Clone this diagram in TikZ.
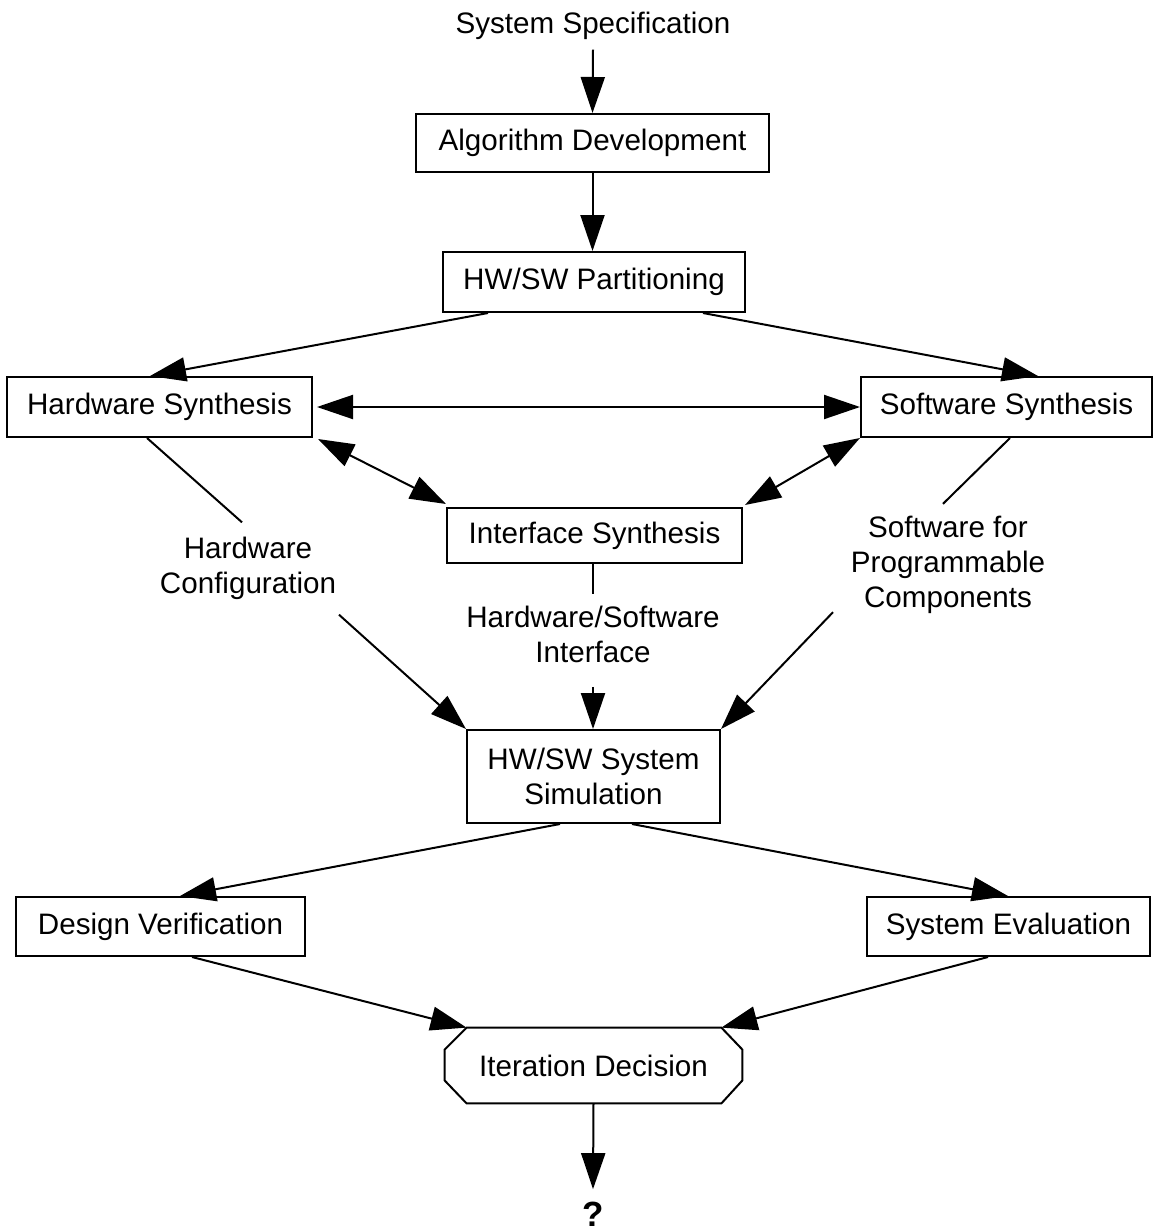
\documentclass[tikz,border=0pt]{standalone}
\usepackage{fontspec}
\setmainfont{Liberation Sans}
\usetikzlibrary{arrows.meta,calc}
\begin{document}
\begin{tikzpicture}[x=0.5pt,y=-0.5pt,
  >={Triangle[length=18pt,width=12pt]},
  every node/.style={font=\fontsize{14.8pt}{17.5pt}\selectfont, inner sep=0pt},
  box/.style={draw, line width=1pt, fill=white},
  conn/.style={line width=1pt},
  arr/.style={conn, ->},
  darr/.style={conn, <->},
  lbl/.style={align=center}]
\useasboundingbox (0,0) rectangle (1154,1232);

% process boxes
\node[anchor=base] (spec) at (593,33) {System Specification};
\node[box, minimum width=176.5pt, minimum height=29pt] (alg) at (592.5,143) {Algorithm Development};
\node[box, minimum width=151pt, minimum height=30pt] (part) at (594,282) {HW/SW Partitioning};
\node[box, minimum width=152.5pt, minimum height=30pt] (hw) at (159.5,407) {Hardware Synthesis};
\node[box, minimum width=145.5pt, minimum height=30pt] (sw) at (1006.5,407) {Software Synthesis};
\node[box, minimum width=147.5pt, minimum height=27.5pt] (intf) at (594.5,535.5) {Interface Synthesis};
\node[box, minimum width=126.5pt, minimum height=46.5pt, align=center] (sim) at (593.5,776.5) {HW/SW System\\Simulation};
\node[box, minimum width=144.5pt, minimum height=29.5pt] (dv) at (160.5,926.5) {Design Verification};
\node[box, minimum width=141.5pt, minimum height=29.5pt] (se) at (1008.5,926.5) {System Evaluation};
\node[minimum width=148.5pt, minimum height=37.5pt] (oct) at (593.5,1065.5) {Iteration Decision};
\node[anchor=base, font=\fontsize{17.5pt}{21pt}\selectfont\bfseries] (q) at (593,1226) {?};

% data labels on the connectors
\node[lbl] (hwcfg) at (248,568) {Hardware\\Configuration};
\node[lbl] (ifc) at (593,634) {Hardware/Software\\Interface};
\node[lbl] (swprog) at (948,565) {Software for\\Programmable\\Components};

% octagonal decision outline
\draw[conn] ($(oct.north west)+(22,0)$) -- ($(oct.north east)+(-21,0)$)
  -- ($(oct.north east)+(0,22)$) -- ($(oct.south east)+(0,-23)$)
  -- ($(oct.south east)+(-21,0)$) -- ($(oct.south west)+(22,0)$)
  -- ($(oct.south west)+(0,-23)$) -- ($(oct.north west)+(0,22)$) -- cycle;

% main flow
\draw[arr] ($(spec.south)+(0,10)$) -- (alg.north);
\draw[arr] (alg.south) -- (alg.south |- part.north);
\draw[arr] ($(part.south)+(-106,0)$) -- ($(hw.north)+(-9.5,0)$);
\draw[arr] ($(part.south)+(109,0)$) -- ($(sw.north)+(31.5,0)$);
\draw[darr] ($(hw.east)+(4,0)$) -- (sw.west);
\draw[darr] ($(hw.south east)+(5,1)$) -- ($(intf.north west)+(0,-3)$);
\draw[darr] (sw.south west) -- ($(intf.north east)+(2,-2)$);

% hardware configuration path
\draw[conn] ($(hw.south)+(-12.5,0)$) -- ($(hwcfg.north)+(-6,-14)$);
\draw[arr] ($(hwcfg.south)+(91,15)$) -- (sim.north west);

% interface path
\draw[conn] (intf.south -| ifc.north) -- ($(ifc.north)+(0,-11)$);
\draw[arr] ($(ifc.south)+(0,24)$) -- (ifc.south |- sim.north);

% software path
\draw[conn] ($(sw.south)+(3.5,0)$) -- ($(swprog.north)+(-5,-12)$);
\draw[arr] ($(swprog.south)+(-115,-2)$) -- (sim.north east);

% evaluation and decision
\draw[arr] ($(sim.south)+(-33.5,0)$) -- ($(dv.north)+(19.5,0)$);
\draw[arr] ($(sim.south)+(38.5,0)$) -- ($(se.north)+(-0.5,0)$);
\draw[arr] ($(dv.south)+(31.5,0)$) -- ($(oct.north west)+(22,0)$);
\draw[arr] ($(se.south)+(-20.5,0)$) -- ($(oct.north east)+(-21,0)$);
\draw[arr] (oct.south) -- ($(q.north)+(0,-12)$);
\end{tikzpicture}
\end{document}
